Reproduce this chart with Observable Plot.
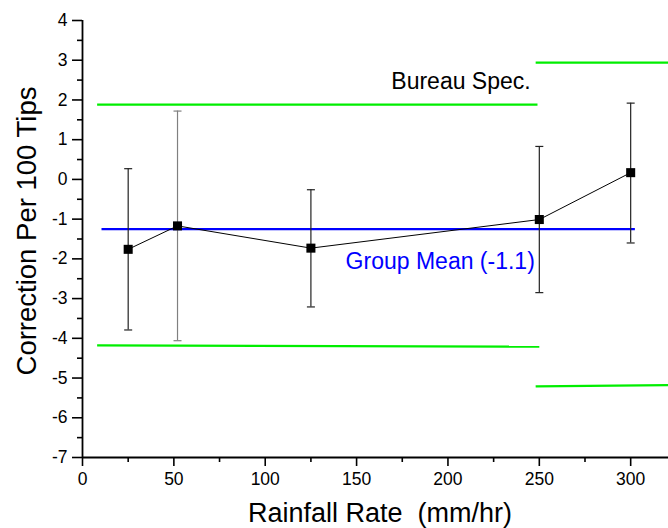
<!DOCTYPE html>
<html><head><meta charset="utf-8">
<script src="https://cdn.jsdelivr.net/npm/d3@7"></script>
<script src="https://cdn.jsdelivr.net/npm/@observablehq/plot@0.6"></script>
<style>html,body{margin:0;padding:0;background:#fff}</style>
</head><body><div id="chart"></div>
<script>
// Data
const rates = [25, 52, 125, 250, 300];
const corrections = [-1.76, -1.17, -1.73, -1.01, 0.17];
const errHigh = [0.27, 1.72, -0.26, 0.83, 1.92];
const errLow = [-3.79, -4.06, -3.21, -2.85, -1.60];

// Bureau spec limit segments
const specX1 = [8, 8, 248, 248];
const specX2 = [249, 250, 320.7, 320.7];
const specY1 = [1.88, -4.18, 2.94, -5.21];
const specY2 = [1.88, -4.21, 2.94, -5.18];

// Group mean line
const meanValue = -1.25;
const meanX = [10.4, 302.3];

// Annotations
const specLabel = {x: 169, y: 2.28, text: "Bureau Spec."};
const meanLabel = {x: 144, y: -2.25, text: "Group Mean (-1.1)"};

// Ticks
const xTicks = [0, 50, 100, 150, 200, 250, 300];
const xMinor = [25, 75, 125, 175, 225, 275];
const yTicks = [-7, -6, -5, -4, -3, -2, -1, 0, 1, 2, 3, 4];
const yMinor = [-6.5, -5.5, -4.5, -3.5, -2.5, -1.5, -0.5, 0.5, 1.5, 2.5, 3.5];

const points = rates.map((x, i) => ({x, y: corrections[i], lo: errLow[i], hi: errHigh[i], i}));
const specs = specX1.map((x1, i) => ({x1, x2: specX2[i], y1: specY1[i], y2: specY2[i]}));
const capSymbol = {draw(ctx) { ctx.moveTo(-4, 0); ctx.lineTo(4, 0); }};
const barColor = d => d.i === 1 ? "#808080" : "#222";

const chart = Plot.plot({
  width: 668, height: 528,
  marginLeft: 82, marginRight: 0, marginTop: 20, marginBottom: 71,
  x: {domain: [0, 320.7]},
  y: {domain: [-7, 4]},
  style: {fontFamily: "'Liberation Sans', Arial, Helvetica, sans-serif", background: "#fff", color: "#000"},
  marks: [
    Plot.link(specs, {x1: "x1", y1: "y1", x2: "x2", y2: "y2", stroke: "#00ee00", strokeWidth: 2.2}),
    Plot.link([meanValue], {x1: meanX[0], x2: meanX[1], y1: d => d, y2: d => d, stroke: "#0000ff", strokeWidth: 2.2}),
    Plot.ruleX(points, {x: "x", y1: "lo", y2: "hi", stroke: barColor, strokeWidth: 1.2}),
    Plot.dot(points, {x: "x", y: "lo", symbol: capSymbol, r: 4, stroke: barColor, strokeWidth: 1.2, fill: "none"}),
    Plot.dot(points, {x: "x", y: "hi", symbol: capSymbol, r: 4, stroke: barColor, strokeWidth: 1.2, fill: "none"}),
    Plot.line(points, {x: "x", y: "y", stroke: "#000", strokeWidth: 1}),
    Plot.dot(points, {x: "x", y: "y", symbol: "square", r: 5.1, fill: "#000", stroke: "none"}),
    Plot.text([specLabel], {x: "x", y: "y", text: "text", textAnchor: "start", lineAnchor: "bottom", fontSize: 23, fill: "#000"}),
    Plot.text([meanLabel], {x: "x", y: "y", text: "text", textAnchor: "start", lineAnchor: "bottom", fontSize: 23, fill: "#0000ff"}),
    Plot.ruleX([0], {stroke: "#000", strokeWidth: 1.8}),
    Plot.ruleY([-7], {stroke: "#000", strokeWidth: 1.8}),
    Plot.axisX({ticks: xTicks, tickSize: 9, tickPadding: 6, fontSize: 17.5, tickFormat: d => String(d), label: null, strokeWidth: 1.6}),
    Plot.axisX({ticks: xMinor, tickSize: 5, tickFormat: () => "", label: null, strokeWidth: 1.6}),
    Plot.axisY({ticks: yTicks, tickSize: 10, tickPadding: 5, fontSize: 17.5, tickFormat: d => String(d), label: null, strokeWidth: 1.6}),
    Plot.axisY({ticks: yMinor, tickSize: 5, tickFormat: () => "", label: null, strokeWidth: 1.6}),
    Plot.text(["Rainfall Rate \u00a0(mm/hr)"], {frameAnchor: "bottom", dy: 64, dx: 4.5, textAnchor: "middle", lineAnchor: "bottom", fontSize: 27, fill: "#000"}),
    Plot.text(["Correction Per 100 Tips"], {frameAnchor: "left", dx: -47, dy: -8, rotate: -90, textAnchor: "middle", lineAnchor: "bottom", fontSize: 27.5, fill: "#000"})
  ]
});
document.getElementById("chart").appendChild(chart);
</script>
</body></html>
